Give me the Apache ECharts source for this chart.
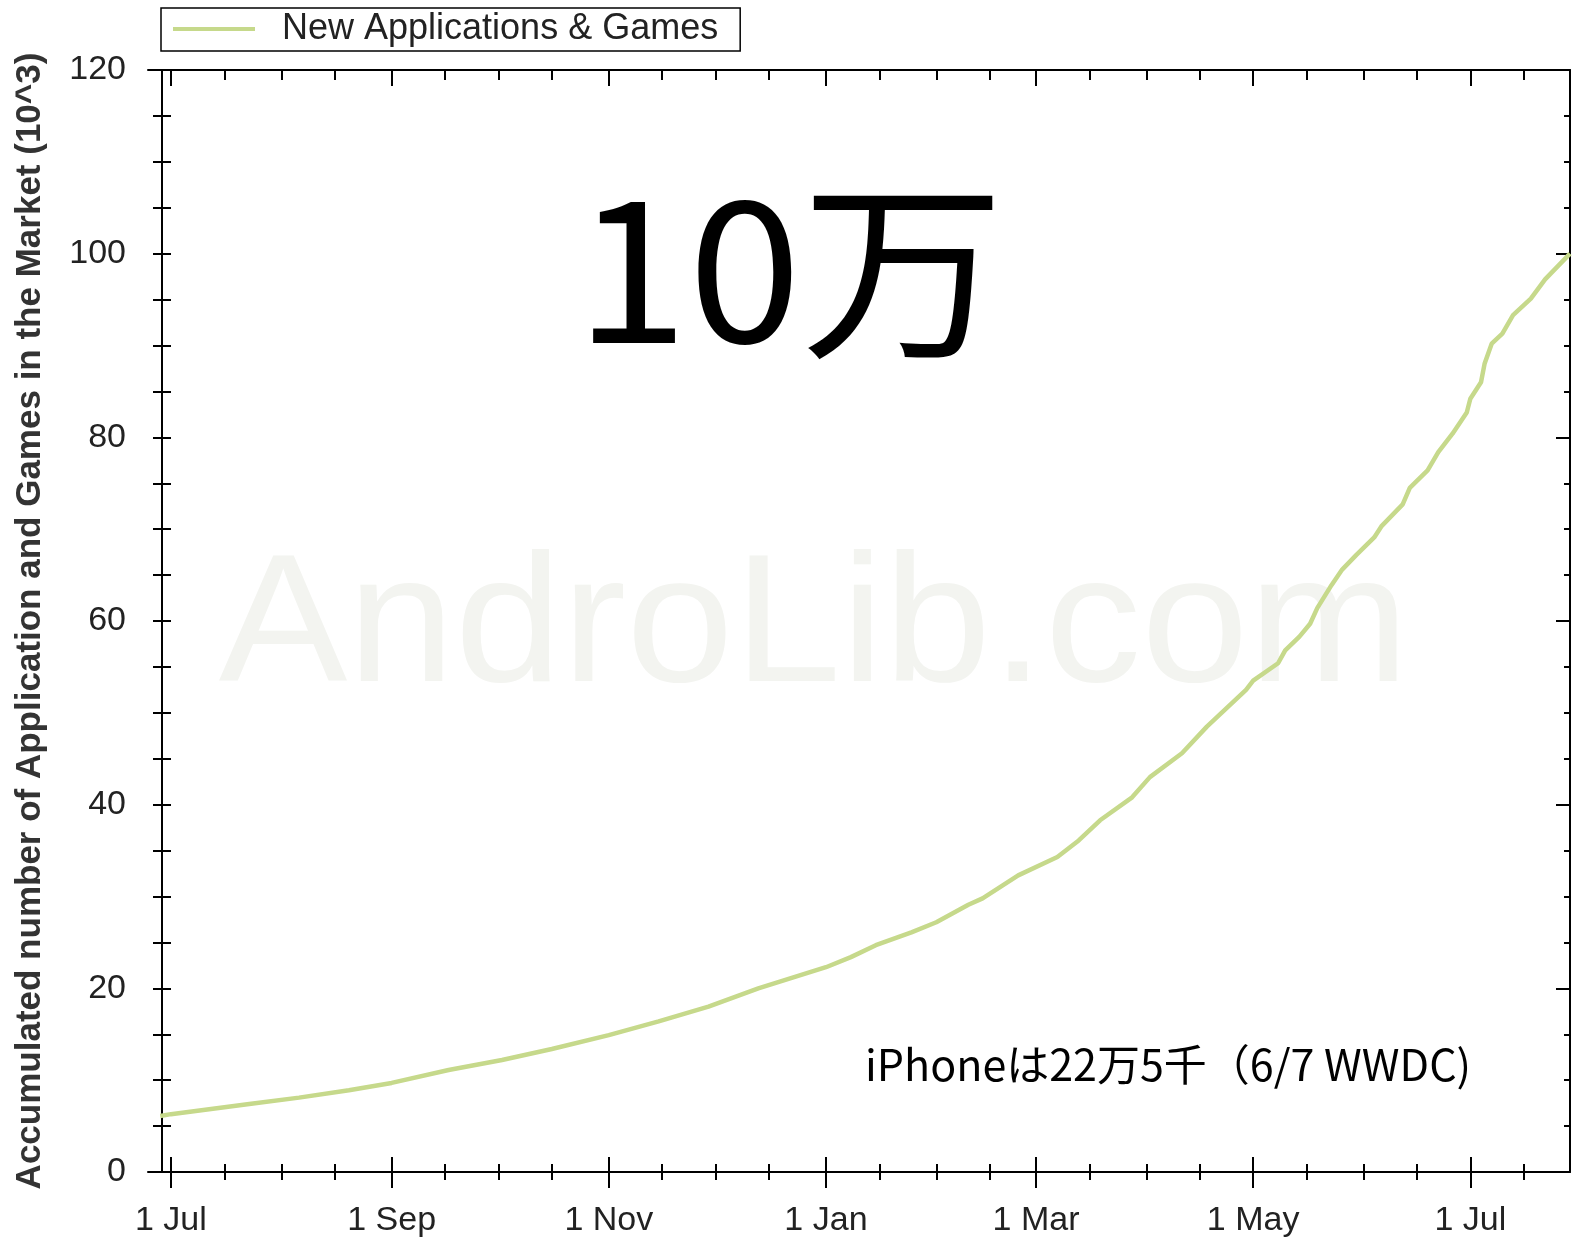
<!DOCTYPE html>
<html>
<head>
<meta charset="utf-8">
<title>Android Market growth</title>
<script src="https://cdn.jsdelivr.net/npm/echarts@6/dist/echarts.min.js"></script>
<style>
  html, body { margin: 0; padding: 0; background: #fff; }
  #chart { width: 1573px; height: 1240px; }
</style>
</head>
<body>
<div id="chart"></div>
<script>
// accumulated apps & games in the market (thousands)
const dates = [
  '2009-06-28', '2009-07-01', '2009-07-23', '2009-08-06', '2009-08-20', '2009-09-01',
  '2009-09-17', '2009-10-02', '2009-10-16', '2009-11-01', '2009-11-15', '2009-11-29',
  '2009-12-13', '2010-01-01', '2010-01-08', '2010-01-15', '2010-01-25', '2010-02-01',
  '2010-02-10', '2010-02-14', '2010-02-24', '2010-03-07', '2010-03-13', '2010-03-19',
  '2010-03-28', '2010-04-02', '2010-04-11', '2010-04-18', '2010-04-29', '2010-05-01',
  '2010-05-08', '2010-05-10', '2010-05-14', '2010-05-17', '2010-05-19', '2010-05-23',
  '2010-05-26', '2010-05-30', '2010-06-04', '2010-06-06', '2010-06-12', '2010-06-14',
  '2010-06-19', '2010-06-22', '2010-06-26', '2010-06-30', '2010-07-01', '2010-07-04',
  '2010-07-05', '2010-07-07', '2010-07-10', '2010-07-13', '2010-07-18', '2010-07-22',
  '2010-07-29'
];
const apps = [
  6.1, 6.3, 7.4, 8.1, 8.9, 9.7,
  11.1, 12.2, 13.4, 14.9, 16.4, 18.0,
  20.0, 22.3, 23.4, 24.7, 26.1, 27.2,
  29.1, 29.8, 32.3, 34.3, 36.1, 38.3,
  40.8, 43.0, 45.6, 48.5, 52.5, 53.5,
  55.4, 56.8, 58.3, 59.7, 61.4, 63.9,
  65.6, 67.2, 69.1, 70.3, 72.7, 74.5,
  76.4, 78.4, 80.4, 82.7, 84.2, 86.0,
  88.0, 90.2, 91.3, 93.3, 95.1, 97.2,
  100.0
];

// x axis ticks: labelled ones every two months, small ones on the 1st / 16th
const majorTicks = ['2009-07-01', '2009-09-01', '2009-11-01', '2010-01-01', '2010-03-01', '2010-05-01', '2010-07-01'];
const minorTicks = [
  '2009-07-16', '2009-08-01', '2009-08-16', '2009-09-16', '2009-10-01', '2009-10-16',
  '2009-11-16', '2009-12-01', '2009-12-16', '2010-01-16', '2010-02-01', '2010-02-16',
  '2010-03-16', '2010-04-01', '2010-04-16', '2010-05-16', '2010-06-01', '2010-06-16',
  '2010-07-16'
];
const monthNames = ['Jan', 'Feb', 'Mar', 'Apr', 'May', 'Jun', 'Jul', 'Aug', 'Sep', 'Oct', 'Nov', 'Dec'];

const seriesName = 'New Applications & Games';
const yTitle = 'Accumulated number of Application and Games in the Market (10^3)';

const toTime = s => new Date(s + 'T00:00:00').getTime();
const xMin = toTime('2009-06-24') + 13.5 * 3600 * 1000;
const xMax = toTime('2010-07-29');

const lineColor = '#c6d98b';
const black = { color: '#000', width: 2 };
const font = 'Liberation Sans';

function fmtDate(v) {
  const d = new Date(v);
  return d.getDate() + ' ' + monthNames[d.getMonth()];
}

// time values are kept as plain numbers (ms) so custom tick values work
function xAxisBase(extra) {
  return Object.assign({
    type: 'value',
    min: xMin,
    max: xMax,
    splitLine: { show: false },
    axisLine: { show: false, onZero: false },
    axisLabel: { show: false },
    axisTick: { show: false },
    axisPointer: { show: false }
  }, extra);
}

function yAxisBase(extra) {
  return Object.assign({
    type: 'value',
    min: 0,
    max: 120,
    splitLine: { show: false },
    axisLine: { show: false, onZero: false },
    axisLabel: { show: false },
    axisTick: { show: false }
  }, extra);
}

const chart = echarts.init(document.getElementById('chart'));

chart.setOption({
  backgroundColor: '#fff',
  animation: false,
  grid: { left: 148, right: 3, top: 70, bottom: 68, outerBoundsMode: 'none' },
  legend: {
    left: 161,
    top: 8,
    data: [{ name: seriesName, icon: 'rect' }],
    itemWidth: 82,
    itemHeight: 4,
    padding: [3, 22, 4, 12],
    borderColor: '#000',
    borderWidth: 1.5,
    selectedMode: false,
    textStyle: { fontFamily: font, fontSize: 36, color: '#222', padding: [0, 0, 0, 22] }
  },
  xAxis: [
    xAxisBase({
      position: 'bottom',
      axisLine: { show: true, onZero: false, lineStyle: black },
      axisLabel: {
        show: true,
        customValues: majorTicks.map(toTime),
        formatter: fmtDate,
        margin: 32,
        fontFamily: font,
        fontSize: 34,
        color: '#222'
      }
    }),
    xAxisBase({
      position: 'bottom',
      offset: -15,
      axisTick: { show: true, length: 31, customValues: majorTicks.map(toTime), lineStyle: black }
    }),
    xAxisBase({
      position: 'bottom',
      offset: -8,
      axisTick: { show: true, length: 16, customValues: minorTicks.map(toTime), lineStyle: black }
    }),
    xAxisBase({
      position: 'top',
      axisLine: { show: true, onZero: false, lineStyle: black },
      axisTick: { show: true, inside: true, length: 10, customValues: minorTicks.map(toTime), lineStyle: black }
    }),
    xAxisBase({
      position: 'top',
      axisTick: { show: true, inside: true, length: 16, customValues: majorTicks.map(toTime), lineStyle: black }
    })
  ],
  yAxis: [
    yAxisBase({
      position: 'left',
      offset: -14,
      interval: 20,
      axisLine: { show: true, onZero: false, lineStyle: black },
      axisLabel: { show: true, margin: 36, fontFamily: font, fontSize: 34, color: '#222' },
      name: yTitle,
      nameLocation: 'middle',
      nameGap: 114,
      nameRotate: 90,
      nameTextStyle: { fontFamily: font, fontWeight: 'bold', fontSize: 35, color: '#333' }
    }),
    yAxisBase({
      position: 'left',
      offset: -23,
      interval: 5,
      axisTick: { show: true, length: 18, lineStyle: black }
    }),
    yAxisBase({
      position: 'right',
      interval: 20,
      axisLine: { show: true, onZero: false, lineStyle: black },
      axisTick: { show: true, inside: true, length: 14, lineStyle: black }
    }),
    yAxisBase({
      position: 'right',
      interval: 5,
      axisTick: { show: true, inside: true, length: 6, lineStyle: black }
    })
  ],
  graphic: [
    {
      type: 'text',
      x: 814,
      y: 631,
      scaleX: 1.06,
      silent: true,
      style: {
        text: 'AndroLib.com',
        fontFamily: font,
        fontSize: 182,
        fill: '#f3f4f0',
        align: 'center',
        verticalAlign: 'middle'
      }
    },
    {
      type: 'text',
      x: 790,
      y: 270,
      scaleX: 1.06,
      silent: true,
      style: {
        text: '10万',
        fontFamily: 'Noto Sans CJK JP',
        fontSize: 192,
        fill: '#000',
        align: 'center',
        verticalAlign: 'middle'
      }
    },
    {
      type: 'text',
      x: 865,
      y: 1065,
      silent: true,
      style: {
        text: 'iPhoneは22万5千（6/7 WWDC)',
        fontFamily: 'Noto Sans CJK JP',
        fontSize: 43,
        fill: '#000',
        align: 'left',
        verticalAlign: 'middle'
      }
    }
  ],
  series: [
    {
      name: seriesName,
      type: 'line',
      xAxisIndex: 0,
      yAxisIndex: 0,
      showSymbol: false,
      symbol: 'none',
      itemStyle: { color: lineColor },
      lineStyle: { color: lineColor, width: 4.5 },
      data: dates.map((d, i) => [toTime(d), apps[i]])
    }
  ]
});
</script>
</body>
</html>
